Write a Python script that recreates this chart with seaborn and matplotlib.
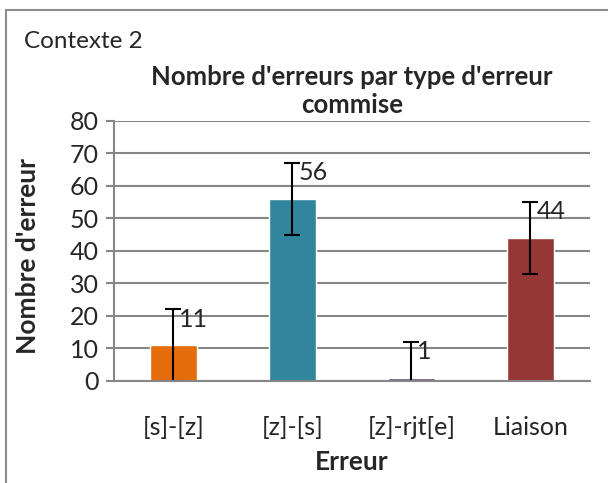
import matplotlib
matplotlib.use("Agg")
import matplotlib.pyplot as plt
import seaborn as sns
import pandas as pd
from matplotlib.patches import Rectangle

# Contexte 2 - erreurs
categories = ["[s]-[z]", "[z]-[s]", "[z]-rjt[e]", "Liaison"]
values = [11, 56, 1, 44]
errors = [11, 11, 11, 11]
colors = ["#E46C0A", "#31859C", "#604A7B", "#953735"]

df = pd.DataFrame({"Erreur": categories, "Nombre": values})

sns.set_style("white")
plt.rcParams['font.family'] = ['Lato', 'DejaVu Sans']

fig = plt.figure(figsize=(6.08, 4.83), dpi=100)
ax = fig.add_axes([0.1875, 0.2112, 0.7825, 0.5383])

sns.barplot(data=df, x="Erreur", y="Nombre", hue="Erreur", palette=colors,
            width=0.4, errorbar=None, legend=False, ax=ax, zorder=2, saturation=1)
ax.errorbar(range(len(values)), values, yerr=errors, fmt="none", ecolor="black",
            elinewidth=1.5, capsize=6, capthick=1.5, zorder=2.2)

for i, v in enumerate(values):
    ax.text(i + 0.05, v + 8, str(v), ha="left", va="center", fontsize=18, zorder=4)

ax.set_xlim(-0.5, 3.5)
ax.set_ylim(0, 80)
ax.set_yticks(range(0, 81, 10))
ax.yaxis.grid(True, color="#868686", linewidth=1.5, zorder=0)
ax.set_axisbelow(True)
for s in ["top", "right"]:
    ax.spines[s].set_visible(False)
ax.spines["left"].set_color("#868686")
ax.spines["left"].set_linewidth(1.5)
ax.spines["bottom"].set_color("#868686")
ax.spines["bottom"].set_linewidth(1.5)
ax.tick_params(axis="y", which="major", left=True, length=6, width=1.5, color="#868686",
               labelsize=18, pad=5)
ax.tick_params(axis="x", bottom=False, labelsize=18, pad=22)

ax.set_xlabel("Erreur", fontsize=19, fontweight="bold")
ax.xaxis.set_label_coords(0.5, -0.265)
ax.set_ylabel("Nombre d'erreur", fontsize=19, fontweight="bold")
ax.yaxis.set_label_coords(-0.155, 0.48)
ax.set_title("Nombre d'erreurs par type d'erreur\ncommise", fontsize=18.5,
             fontweight="bold", linespacing=1.2, pad=6)

fig.text(0.04, 0.915, "Contexte 2", fontsize=17.5, ha="left", va="center")
fig.patches.append(Rectangle((0.01, -0.05), 1.2, 1.03, transform=fig.transFigure,
                             fill=False, edgecolor="#8c8c8c", linewidth=1.5))

fig.savefig("out.png", dpi=100)
